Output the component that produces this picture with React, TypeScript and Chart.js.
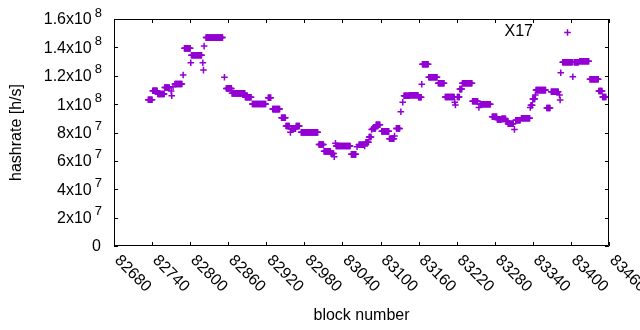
import React, { useEffect, useRef } from "react";
import { Chart, registerables } from "chart.js";

Chart.register(...registerables);

// Runs of consecutive blocks that share one hashrate value (h/s)
const runStarts = [
  82734, 82741, 82749, 82760, 82776, 82791, 82802, 82825, 82857, 82866,
  82887, 82898, 82923, 82930, 82944, 82951, 82959, 82967, 82975, 83003,
  83011, 83022, 83030, 83054, 83066, 83077, 83082, 83088, 83093, 83102,
  83114, 83125, 83137, 83146, 83160, 83166, 83176, 83191, 83202, 83221,
  83225, 83229, 83245, 83257, 83276, 83284, 83291, 83298, 83301, 83313,
  83322, 83337, 83340, 83345, 83362, 83369, 83387, 83405, 83414, 83430,
  83444, 83450,
];
const runEnds = [
  82740, 82748, 82759, 82767, 82787, 82800, 82818, 82851, 82865, 82886,
  82896, 82919, 82927, 82941, 82950, 82956, 82966, 82972, 83001, 83010,
  83021, 83026, 83052, 83061, 83073, 83081, 83085, 83092, 83099, 83113,
  83121, 83130, 83145, 83159, 83164, 83175, 83189, 83200, 83216, 83224,
  83228, 83244, 83253, 83273, 83283, 83290, 83297, 83300, 83309, 83320,
  83335, 83339, 83343, 83360, 83367, 83380, 83402, 83412, 83428, 83443,
  83449, 83455,
];
const runValues = [
  103.1e6, 109.4e6, 107.1e6, 111.7e6, 114.2e6, 139.3e6, 134.4e6, 146.9e6, 111.1e6, 107.6e6,
  104.8e6, 100.1e6, 104.5e6, 96.5e6, 90.4e6, 84.6e6, 82.7e6, 84.6e6, 80.1e6, 71.5e6,
  66.7e6, 65.2e6, 70.5e6, 64.6e6, 71.4e6, 73.1e6, 76.8e6, 82.9e6, 85.5e6, 80.8e6,
  75.6e6, 82.9e6, 105.9e6, 106.3e6, 104.8e6, 128.1e6, 118.9e6, 114.7e6, 105.0e6, 105.0e6,
  110.6e6, 114.7e6, 102.0e6, 99.9e6, 91.1e6, 89.2e6, 89.6e6, 88.0e6, 86.2e6, 88.6e6,
  90.0e6, 99.2e6, 103.7e6, 109.9e6, 97.3e6, 108.7e6, 129.5e6, 129.5e6, 130.2e6, 117.5e6,
  109.2e6, 105.0e6,
];

// Isolated blocks
const singleBlocks = [
  82770, 82771, 82773, 82789, 82801, 82820, 82821, 82822, 82854, 82958,
  83027, 83029, 83063, 83075, 83086, 83122, 83132, 83135, 83165, 83217,
  83218, 83255, 83311, 83336, 83344, 83382, 83383, 83384, 83403,
];
const singleValues = [
  109.2e6, 105.9e6, 112.3e6, 120.5e6, 129.2e6, 129.2e6, 124.0e6, 140.9e6, 118.9e6, 80.1e6,
  62.9e6, 72.4e6, 70.0e6, 70.5e6, 82.2e6, 77.5e6, 94.6e6, 101.3e6, 114.0e6, 101.3e6,
  99.4e6, 97.7e6, 82.2e6, 97.7e6, 106.4e6, 106.4e6, 102.9e6, 122.1e6, 119.3e6,
];

const seriesLabel = "X17";
const xTitle = "block number";
const yTitle = "hashrate [h/s]";
const xTickValues = [
  82680, 82740, 82800, 82860, 82920, 82980, 83040, 83100, 83160, 83220,
  83280, 83340, 83400, 83460,
];
const yTickValues = [0, 2e7, 4e7, 6e7, 8e7, 1e8, 1.2e8, 1.4e8, 1.6e8];
const yTickMantissas = ["0", "2x10", "4x10", "6x10", "8x10", "1x10", "1.2x10", "1.4x10", "1.6x10"];
const yTickExponents = ["", "7", "7", "7", "7", "8", "8", "8", "8"];

const COLOR = "#9400D3";
const FONT = '"Liberation Sans", Arial, sans-serif';
const POINT_R = 3.3;
const POINT_W = 1.5;

function buildPoints() {
  const pts: { x: number; y: number }[] = [];
  for (let i = 0; i < runStarts.length; i++) {
    for (let b = runStarts[i]; b <= runEnds[i]; b++) pts.push({ x: b, y: runValues[i] });
  }
  for (let i = 0; i < singleBlocks.length; i++) pts.push({ x: singleBlocks[i], y: singleValues[i] });
  pts.sort((a, b) => a.x - b.x);
  return pts;
}

const decorPlugin = {
  id: "gnuplotDecor",
  afterDraw(chart: any) {
    const { ctx, chartArea: a, scales } = chart;
    const xs = scales.x;
    const ys = scales.y;
    ctx.save();
    ctx.strokeStyle = "#000";
    ctx.lineWidth = 1;
    ctx.beginPath();
    ctx.rect(a.left + 0.5, a.top + 0.5, a.right - a.left - 1, a.bottom - a.top - 1);
    ctx.stroke();
    const T = 4;
    ctx.beginPath();
    xTickValues.forEach((v) => {
      const px = Math.round(xs.getPixelForValue(v)) + 0.5;
      ctx.moveTo(px, a.bottom);
      ctx.lineTo(px, a.bottom - T);
      ctx.moveTo(px, a.top);
      ctx.lineTo(px, a.top + T);
    });
    yTickValues.forEach((v) => {
      const py = Math.round(ys.getPixelForValue(v)) + 0.5;
      ctx.moveTo(a.left, py);
      ctx.lineTo(a.left + T, py);
      ctx.moveTo(a.right, py);
      ctx.lineTo(a.right - T, py);
    });
    ctx.stroke();

    ctx.fillStyle = "#000";
    // x tick labels, rotated down-right
    ctx.font = `16px ${FONT}`;
    ctx.textAlign = "left";
    ctx.textBaseline = "middle";
    xTickValues.forEach((v) => {
      const px = xs.getPixelForValue(v);
      ctx.save();
      ctx.translate(px + 3, a.bottom + 12);
      ctx.rotate(Math.PI / 4);
      ctx.fillText(String(v), 0, 0);
      ctx.restore();
    });
    // y tick labels with superscripts
    const xr = 102;
    yTickValues.forEach((v, i) => {
      const py = ys.getPixelForValue(v);
      const exp = yTickExponents[i];
      let right = xr;
      if (exp) {
        ctx.font = `13px ${FONT}`;
        const we = ctx.measureText(exp).width;
        ctx.textAlign = "left";
        ctx.textBaseline = "middle";
        ctx.fillText(exp, xr - we, py - 6);
        right = xr - we - 3;
      } else {
        right = xr - 1;
      }
      ctx.font = `16px ${FONT}`;
      ctx.textAlign = "right";
      ctx.textBaseline = "middle";
      ctx.fillText(yTickMantissas[i], right, py + 1);
    });
    // axis titles
    ctx.font = `16px ${FONT}`;
    ctx.textAlign = "center";
    ctx.textBaseline = "middle";
    ctx.fillText(xTitle, (a.left + a.right) / 2, 316);
    ctx.save();
    ctx.translate(17, (a.top + a.bottom) / 2);
    ctx.rotate(-Math.PI / 2);
    ctx.fillText(yTitle, 0, 0);
    ctx.restore();
    // legend
    ctx.textAlign = "right";
    ctx.fillText(chart.data.datasets[0].label, 533, 32);
    ctx.strokeStyle = COLOR;
    ctx.lineWidth = POINT_W;
    ctx.beginPath();
    const lx = 567.5, ly = 32.5;
    ctx.moveTo(lx - POINT_R, ly);
    ctx.lineTo(lx + POINT_R, ly);
    ctx.moveTo(lx, ly - POINT_R);
    ctx.lineTo(lx, ly + POINT_R);
    ctx.stroke();
    ctx.restore();
  },
};

export default function App() {
  const ref = useRef<HTMLCanvasElement | null>(null);
  useEffect(() => {
    document.body.style.margin = "0";
    const canvas = ref.current;
    if (!canvas) return;
    const chart = new Chart(canvas, {
      type: "scatter",
      data: {
        datasets: [
          {
            label: seriesLabel,
            data: buildPoints(),
            pointStyle: "cross",
            pointRadius: POINT_R,
            pointHoverRadius: POINT_R,
            borderColor: COLOR,
            backgroundColor: COLOR,
            borderWidth: POINT_W,
            showLine: false,
          },
        ],
      },
      options: {
        responsive: false,
        maintainAspectRatio: false,
        animation: false,
        devicePixelRatio: 1,
        events: [],
        layout: { padding: { left: 114, right: 31, top: 19, bottom: 84 } },
        plugins: { legend: { display: false }, tooltip: { enabled: false } },
        scales: {
          x: { type: "linear", min: 82680, max: 83460, display: false },
          y: { type: "linear", min: 0, max: 1.6e8, display: false },
        },
      },
      plugins: [decorPlugin],
    });
    return () => chart.destroy();
  }, []);
  return <canvas ref={ref} width={640} height={330} style={{ display: "block" }} />;
}
